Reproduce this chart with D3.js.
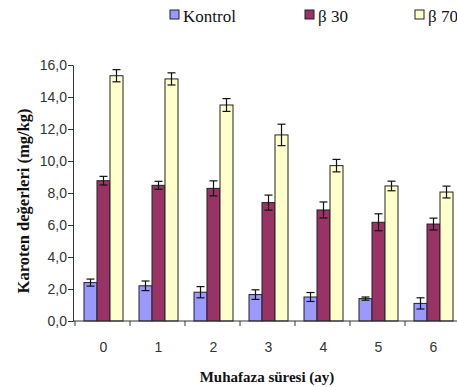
<!DOCTYPE html>
<html><head><meta charset="utf-8">
<script src="https://cdn.jsdelivr.net/npm/d3@7"></script>
<style>body{margin:0;background:#fff}</style>
</head><body>
<svg id="c" width="457" height="387"></svg>
<script>
const categories = ["0","1","2","3","4","5","6"];
const seriesNames = ["Kontrol","β 30","β 70"];
const kontrol = [2.4, 2.2, 1.8, 1.65, 1.5, 1.4, 1.1];
const kontrolErr = [0.22, 0.3, 0.35, 0.3, 0.28, 0.1, 0.35];
const beta30 = [8.77, 8.48, 8.29, 7.4, 6.94, 6.17, 6.06];
const beta30Err = [0.27, 0.25, 0.47, 0.47, 0.5, 0.53, 0.37];
const beta70 = [15.33, 15.13, 13.5, 11.63, 9.71, 8.44, 8.06];
const beta70Err = [0.38, 0.38, 0.4, 0.67, 0.39, 0.3, 0.37];
const yTicks = [0,2,4,6,8,10,12,14,16];
const colors = ["#9999ff","#993366","#ffffcc"];

const svg = d3.select("#c");
const axisX = 73, y0 = 321;
const x = d3.scaleBand().domain(categories).range([75, 460]);
const xs = d3.scaleBand().domain(seriesNames).range([0, 39]);
const y = d3.scaleLinear().domain([0,16]).range([y0, 65]);

const series = [
  {name: seriesNames[0], vals: kontrol, err: kontrolErr, color: colors[0]},
  {name: seriesNames[1], vals: beta30, err: beta30Err, color: colors[1]},
  {name: seriesNames[2], vals: beta70, err: beta70Err, color: colors[2]}
];

const g = svg.append("g");
series.forEach(s => {
  const off = (x.bandwidth() - 39) / 2 + 1;
  const data = categories.map((c,i)=>({c, v:s.vals[i], e:s.err[i]}));
  g.selectAll(null).data(data).enter().append("rect")
    .attr("x", d => x(d.c) + off + xs(s.name))
    .attr("y", d => y(d.v))
    .attr("width", xs.bandwidth())
    .attr("height", d => y0 - y(d.v))
    .attr("fill", s.color).attr("stroke", "#222").attr("stroke-width", 1);
  const eb = g.selectAll(null).data(data).enter().append("g")
    .attr("transform", d => `translate(${x(d.c) + off + xs(s.name) + xs.bandwidth()/2},0)`);
  eb.append("line").attr("y1", d=>y(d.v+d.e)).attr("y2", d=>y(d.v-d.e)).attr("stroke","#111").attr("stroke-width",1.2);
  eb.append("line").attr("x1",-4).attr("x2",4).attr("y1", d=>y(d.v+d.e)).attr("y2", d=>y(d.v+d.e)).attr("stroke","#111").attr("stroke-width",1.2);
  eb.append("line").attr("x1",-4).attr("x2",4).attr("y1", d=>y(d.v-d.e)).attr("y2", d=>y(d.v-d.e)).attr("stroke","#111").attr("stroke-width",1.2);
});

// Y axis
const yAxis = d3.axisLeft(y).tickValues(yTicks).tickSize(5).tickSizeOuter(0)
  .tickFormat(d => d3.format(".1f")(d).replace(".", ","));
const ya = svg.append("g").attr("transform", `translate(${axisX},0)`).call(yAxis);
ya.select(".domain").attr("stroke","#333");
ya.selectAll(".tick line").attr("stroke","#333");
ya.selectAll("text").attr("font-family","'Liberation Sans', Arial, sans-serif").attr("font-size","14px").attr("fill","#333").attr("x",-6);

// X axis
svg.append("line").attr("x1",axisX).attr("x2",457).attr("y1",y0).attr("y2",y0).attr("stroke","#333");
const bounds = categories.map(c => x(c));
svg.selectAll(null).data(bounds).enter().append("line")
  .attr("x1", d=>d).attr("x2", d=>d).attr("y1", y0).attr("y2", y0+5).attr("stroke","#333");
svg.selectAll(null).data(categories).enter().append("text")
  .attr("x", d => x(d) + x.bandwidth()/2 + 1).attr("y", 352)
  .attr("text-anchor","middle")
  .attr("font-family","'Liberation Sans', Arial, sans-serif").attr("font-size","14px").attr("fill","#333")
  .text(d=>d);

// Axis titles
svg.append("text").attr("x", 267).attr("y", 382).attr("text-anchor","middle")
  .attr("font-family","'Liberation Serif', 'Times New Roman', serif").attr("font-weight","bold").attr("font-size","15px")
  .attr("fill","#111").text("Muhafaza süresi (ay)");
svg.append("text").attr("transform","translate(29,201) rotate(-90)").attr("text-anchor","middle")
  .attr("font-family","'Liberation Serif', 'Times New Roman', serif").attr("font-weight","bold").attr("font-size","16.5px")
  .attr("fill","#111").text("Karoten değerleri (mg/kg)");

// Legend
const legX = [170, 305, 415];
series.forEach((s,i) => {
  svg.append("rect").attr("x", legX[i]).attr("y", 10).attr("width", 9).attr("height", 9)
    .attr("fill", s.color).attr("stroke","#222");
  svg.append("text").attr("x", legX[i] + 13).attr("y", 22)
    .attr("font-family","'Liberation Serif', 'Times New Roman', serif").attr("font-size","17px").attr("fill","#111")
    .text(s.name);
});
</script>
</body></html>
